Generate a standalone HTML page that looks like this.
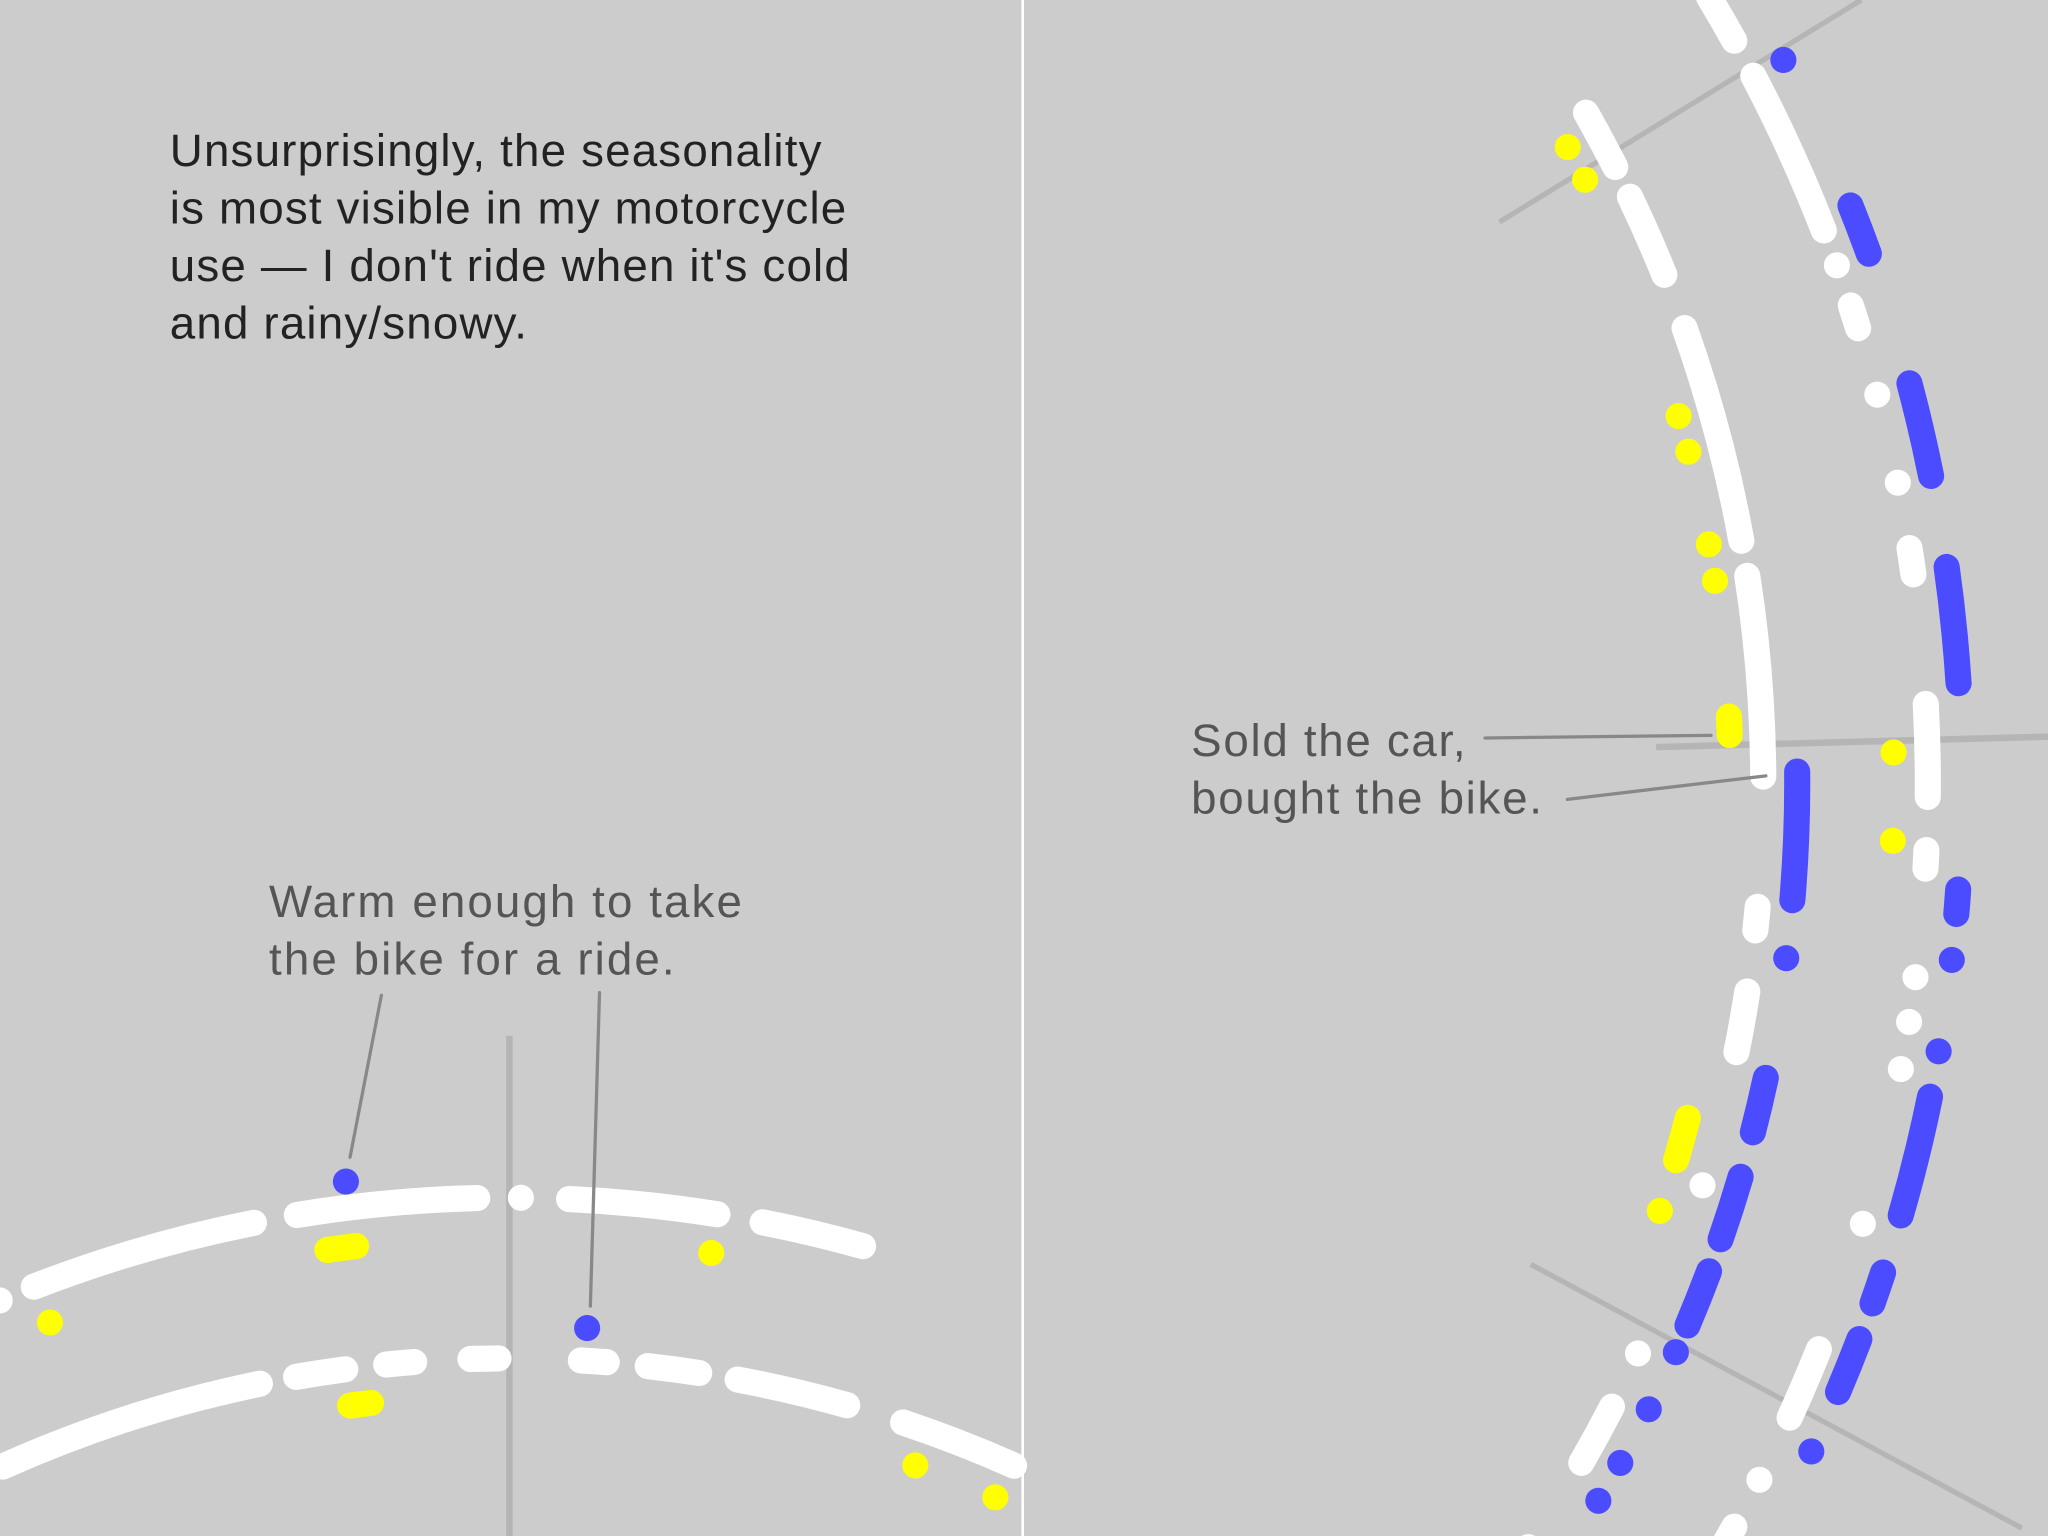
<!DOCTYPE html>
<html><head><meta charset="utf-8"><style>
html,body{margin:0;padding:0;background:#cccccc;}
svg{display:block;}
text{font-family:"Liberation Sans",sans-serif;}
</style></head><body>
<svg id="chart" width="2048" height="1536" viewBox="0 0 1568 1176" xmlns="http://www.w3.org/2000/svg">
<rect x="0" y="0" width="1568" height="1176" fill="#cccccc"/>
<line x1="783" y1="0" x2="783" y2="1176" stroke="#ffffff" stroke-width="2"/>
<g id="grid">
<line x1="390" y1="793" x2="390" y2="1176" stroke="#b5b5b5" stroke-width="5"/>
<line x1="1148" y1="170" x2="1425" y2="0" stroke="#b5b5b5" stroke-width="4"/>
<line x1="1268" y1="572" x2="1568" y2="564" stroke="#b5b5b5" stroke-width="5"/>
<line x1="1172" y1="968" x2="1548" y2="1170" stroke="#b5b5b5" stroke-width="4"/>
</g>
<g id="marks"></g>
<g stroke="#888888" stroke-width="2.5" stroke-linecap="round">
<line x1="292" y1="762" x2="268" y2="886"/>
<line x1="459" y1="760" x2="452" y2="1000"/>
<line x1="1137" y1="565" x2="1310" y2="563"/>
<line x1="1200" y1="612" x2="1352" y2="594"/>
</g>
<g font-size="35" fill="#222222" letter-spacing="0.9">
<text x="130" y="127">Unsurprisingly, the seasonality</text>
<text x="130" y="171">is most visible in my motorcycle</text>
<text x="130" y="215">use — I don't ride when it's cold</text>
<text x="130" y="259">and rainy/snowy.</text>
</g>
<g font-size="35" fill="#555555" letter-spacing="1.6">
<text x="206" y="702">Warm enough to take</text>
<text x="206" y="746">the bike for a ride.</text>
</g>
<g font-size="35" fill="#555555" letter-spacing="1.3">
<text x="912" y="579">Sold the car,</text>
<text x="912" y="623">bought the bike.</text>
</g>
</svg>
<script>
// Segment data: [startAngleDeg, endAngleDeg] per lane, per track
const leftTopWhite=[[-112.8,-112.8],[-111.2,-101.2],[-99.3,-91.4],[-89.5,-89.5],[-87.4,-80.9],[-78.9,-74.4]];
const leftTopBlue=[[-97.0,-97.0]];
const leftTopYellow=[[-111.1,-111.1],[-98.2,-96.9],[-80.9,-80.9]];
const leftLowWhite=[[-114.1,-101.6],[-99.9,-97.6],[-95.7,-94.4],[-91.8,-90.5],[-86.7,-85.5],[-83.6,-81.2],[-79.4,-74.2],[-71.5,-66.0]];
const leftLowBlue=[[-86.5,-86.5]];
const leftLowYellow=[[-97.6,-96.6],[-70.3,-70.3],[-66.2,-66.2]];
const rightAWhite=[[-29.6,-27.0],[-25.6,-22.0],[-19.6,-10.3],[-8.8,-0.3],[5.2,6.2],[8.8,11.4],[17.2,17.2],[24.8,24.8],[27.3,30.0],[34.2,34.2]];
const rightABlue=[[-0.5,4.8],[7.2,7.2],[12.2,14.5],[16.4,19.1],[20.5,22.9],[24.1,24.1],[26.7,26.7],[29.2,29.2],[31.0,31.0],[33.4,33.4]];
const rightAYellow=[[-28.7,-28.7],[-27.1,-27.1],[-16.1,-16.1],[-14.5,-14.5],[-10.4,-10.4],[-8.8,-8.8],[-2.9,-2.1],[14.6,16.5],[18.8,18.8]];
const rightBWhite=[[-31.1,-29.2],[-27.7,-21.3],[-19.9,-19.9],[-18.3,-17.4],[-14.8,-14.8],[-11.4,-11.4],[-8.9,-7.9],[-3.0,0.5],[2.5,3.2],[7.3,7.3],[9.0,9.0],[10.8,10.8],[16.8,16.8],[21.8,24.6],[27.2,27.2],[29.2,31.5]];
const rightBBlue=[[-27.7,-27.7],[-21.8,-19.9],[-14.9,-11.4],[-8.0,-3.7],[3.9,4.8],[6.5,6.5],[9.9,9.9],[11.6,16.1],[18.3,19.5],[20.9,23.0],[25.4,25.4]];
const rightBYellow=[[-1.2,-1.2],[2.2,2.2]];

const COLORS={white:'#ffffff',blue:'#4b4bff',yellow:'#ffff00'};
const tracks=[
 {name:'left-top',cx:390,cy:1924,r:1007,lanes:[['white',0,leftTopWhite],['blue',20,leftTopBlue],['yellow',-30,leftTopYellow]]},
 {name:'left-bottom',cx:390,cy:1990,r:950,lanes:[['white',0,leftLowWhite],['blue',25,leftLowBlue],['yellow',-28,leftLowYellow]]},
 {name:'right-inner',cx:310,cy:600,r:1040,lanes:[['white',0,rightAWhite],['blue',26,rightABlue],['yellow',-25,rightAYellow]]},
 {name:'right-outer',cx:310,cy:600,r:1166,lanes:[['white',0,rightBWhite],['blue',26,rightBBlue],['yellow',-26,rightBYellow]]}
];
const NS='http://www.w3.org/2000/svg';
const g=document.getElementById('marks');
function pt(t,r,a){const rad=a*Math.PI/180;return [t.cx+r*Math.cos(rad),t.cy+r*Math.sin(rad)];}
tracks.forEach(t=>{
 t.lanes.forEach(([col,off,segs])=>{
  const r=t.r+off;
  segs.forEach(([a0,a1])=>{
   const p0=pt(t,r,a0),p1=pt(t,r,a1);
   let el;
   if(Math.abs(a1-a0)<0.05){
    el=document.createElementNS(NS,'circle');
    el.setAttribute('cx',p0[0]);el.setAttribute('cy',p0[1]);el.setAttribute('r',10);
    el.setAttribute('fill',COLORS[col]);
   }else{
    el=document.createElementNS(NS,'path');
    const sweep=a1>a0?1:0;
    el.setAttribute('d','M'+p0[0]+' '+p0[1]+' A'+r+' '+r+' 0 0 '+sweep+' '+p1[0]+' '+p1[1]);
    el.setAttribute('fill','none');el.setAttribute('stroke',COLORS[col]);
    el.setAttribute('stroke-width',20);el.setAttribute('stroke-linecap','round');
   }
   
   
   g.appendChild(el);
  });
 });
});
</script>
</body></html>
